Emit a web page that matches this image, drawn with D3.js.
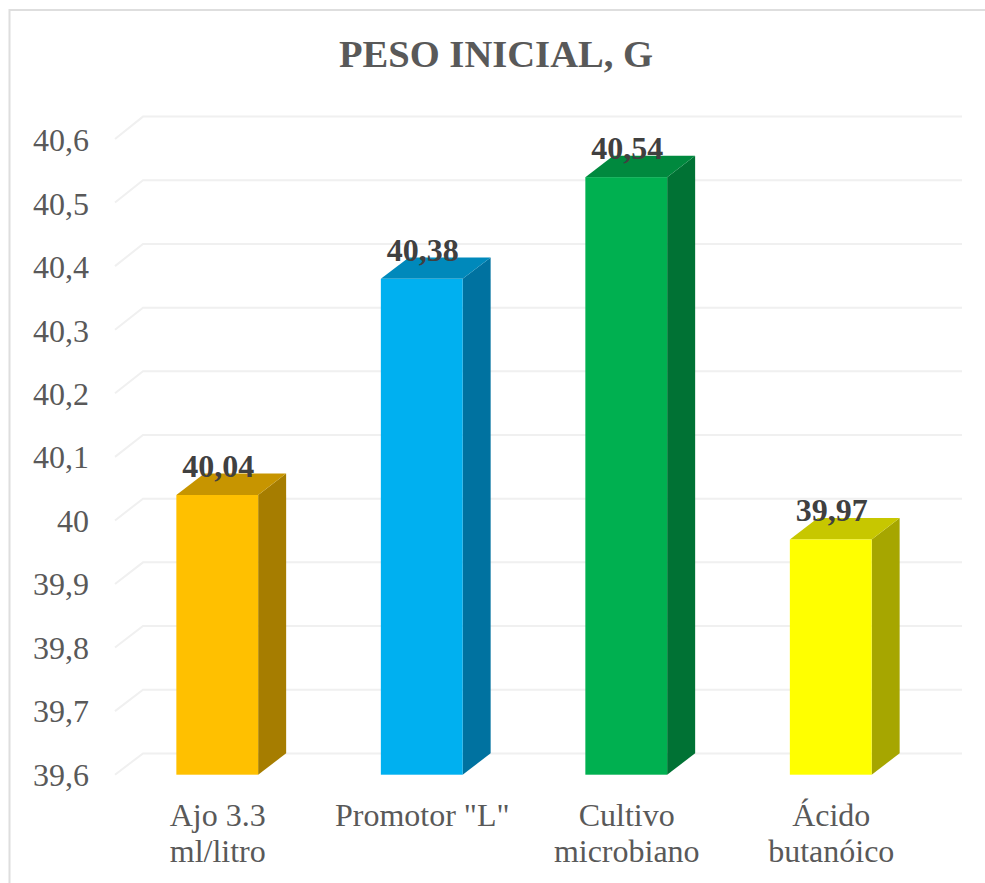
<!DOCTYPE html>
<html><head><meta charset="utf-8">
<style>html,body{margin:0;padding:0;background:#fff}svg{display:block}</style>
<script src="https://cdn.jsdelivr.net/npm/d3@7"></script></head>
<body><div id="chart"></div>
<script>
const categories = [["Ajo 3.3","ml/litro"],["Promotor \"L\""],["Cultivo","microbiano"],["Ácido","butanóico"]];
const values = [40.04,40.38,40.54,39.97];
const valueLabels = ["40,04","40,38","40,54","39,97"];
const faceColors = ["#FFC000","#00B0F0","#00B050","#FFFF00"];
const topColors = ["#C79500","#0089BB","#00893E","#C7C700"];
const sideColors = ["#A67D00","#0072A0","#007234","#A6A600"];
const tickValues = [39.6,39.7,39.8,39.9,40,40.1,40.2,40.3,40.4,40.5,40.6];
const tickLabels = ["39,6","39,7","39,8","39,9","40","40,1","40,2","40,3","40,4","40,5","40,6"];
const title = "PESO INICIAL, G";

const W=985,H=883,dx=28,dy=-21.4;
const font="'Liberation Serif','Times New Roman',serif";
const svg=d3.select("#chart").append("svg").attr("width",W).attr("height",H).style("font-family",font);
svg.append("rect").attr("x",9.5).attr("y",10).attr("width",W+20).attr("height",H+20).attr("fill","#fff").attr("stroke","#DEDEDE").attr("stroke-width",2);

const x=d3.scaleBand().domain(d3.range(categories.length)).range([115,933]).paddingInner(0.6).paddingOuter(0.3);
const y=d3.scaleLinear().domain([39.6,40.6]).range([774.7,139]);      // front plane
const yBack=d3.scaleLinear().domain([39.6,40.6]).range([753.4,116.6]); // back wall
const yLabel=d3.scaleLinear().domain([39.6,40.6]).range([774.8,140.5]);

const grid=svg.append("g").attr("fill","none").attr("stroke","#F0F0F0").attr("stroke-width",2);
grid.selectAll("path").data(tickValues).join("path")
 .attr("d",d=>d3.line()([[x.range()[0],y(d)],[x.range()[0]+dx,yBack(d)],[x.range()[1]+dx+1,yBack(d)]]));

const yAxis=d3.axisLeft(yLabel).tickValues(tickValues).tickFormat((d,i)=>tickLabels[i]).tickSize(0).tickPadding(26);
const ya=svg.append("g").attr("transform",`translate(${x.range()[0]},0)`).call(yAxis);
ya.select(".domain").remove();
ya.selectAll("text").attr("font-size",32).attr("fill","#595959").style("font-family",font);

const bars=svg.append("g").selectAll("g").data(values).join("g");
bars.append("path").attr("fill",(d,i)=>sideColors[i]).attr("d",(d,i)=>{
  const r=x(i)+x.bandwidth(),t=y(d),b=y.range()[0];
  return d3.line()([[r,t],[r+dx,t+dy],[r+dx,b+dy],[r,b]])+"Z";});
bars.append("path").attr("fill",(d,i)=>topColors[i]).attr("d",(d,i)=>{
  const l=x(i),r=l+x.bandwidth(),t=y(d);
  return d3.line()([[l,t],[l+dx,t+dy],[r+dx,t+dy],[r,t]])+"Z";});
bars.append("rect").attr("fill",(d,i)=>faceColors[i])
  .attr("x",(d,i)=>x(i)).attr("width",x.bandwidth()).attr("y",d=>y(d)).attr("height",d=>y.range()[0]-y(d));
bars.append("text").text((d,i)=>valueLabels[i]).attr("text-anchor","middle")
  .attr("x",(d,i)=>x(i)+x.bandwidth()/2+1).attr("y",d=>y(d)-18)
  .attr("font-size",32).attr("font-weight","bold").attr("fill","#404040");

const cat=svg.append("g").selectAll("text").data(categories).join("text")
  .attr("text-anchor","middle").attr("font-size",32).attr("fill","#595959");
cat.each(function(lines,i){
  d3.select(this).selectAll("tspan").data(lines).join("tspan")
    .attr("x",x(i)+x.bandwidth()/2+0.5).attr("y",(l,j)=>825.5+j*36.5).text(l=>l);
});
svg.append("text").text(title).attr("x",496).attr("y",67).attr("text-anchor","middle")
  .attr("font-size",38.6).attr("font-weight","bold").attr("fill","#595959");
</script></body></html>
